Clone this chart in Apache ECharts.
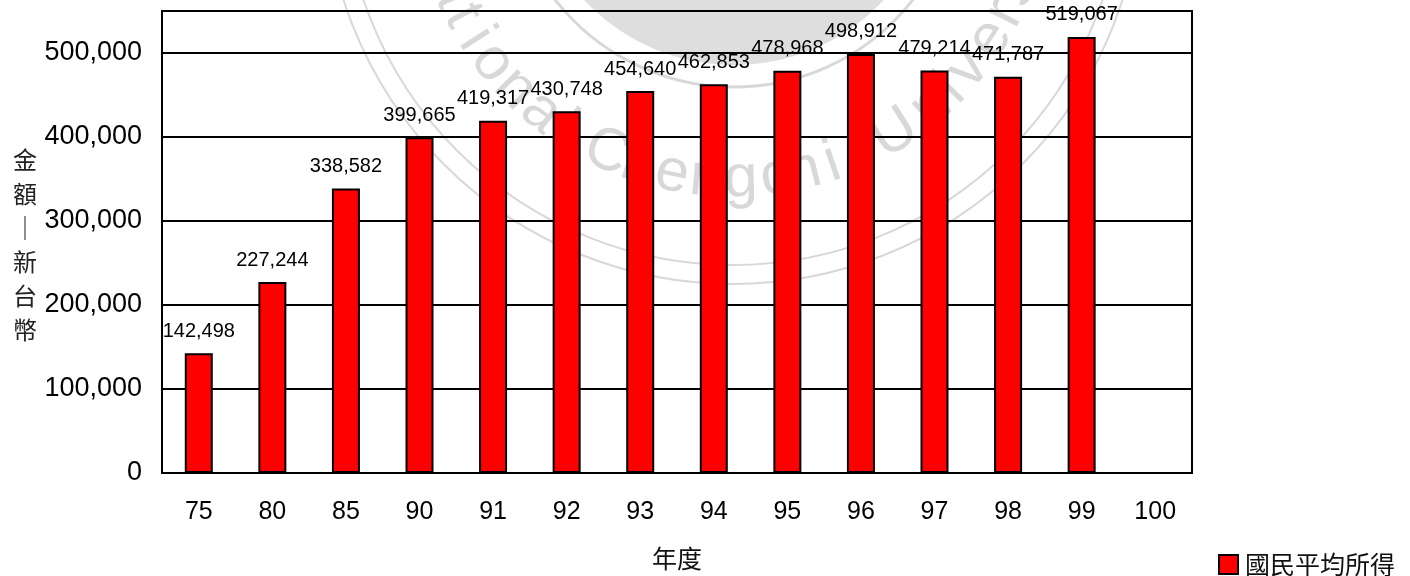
<!DOCTYPE html>
<html>
<head>
<meta charset="utf-8">
<script src="https://cdn.jsdelivr.net/npm/echarts@6/dist/echarts.min.js"></script>
<style>
  html, body { margin: 0; padding: 0; background: #fff; }
  #chart { width: 1410px; height: 576px; }
</style>
</head>
<body>
<div id="chart"></div>
<script>
// 年度 (ROC years) and per-capita national income in NT$
const categories = ['75', '80', '85', '90', '91', '92', '93', '94', '95', '96', '97', '98', '99', '100'];
const incomeValues = [142498, 227244, 338582, 399665, 419317, 430748, 454640, 462853, 478968, 498912, 479214, 471787, 519067, null];
const seriesName = '國民平均所得';
const yAxisName = ['金', '額', '｜', '新', '台', '幣'];
const xAxisName = '年度';

// Faint university seal drawn behind the plot
const sealText = 'National Chengchi University';
const sealLetterAngles = [166, 158, 152.5, 147.5, 142, 135.5, 129, 123.5, 119,
  114.5, 108, 101.5, 95, 88.5, 82, 76.5, 71, 64,
  58, 49.5, 44.5, 39.5, 32.5, 27, 22, 17, 12.5, 7];

function thousands(v) {
  return String(v).replace(/\B(?=(\d{3})+(?!\d))/g, ',');
}

const sealColor = '#d8d8d8';
const sealCx = 733, sealCy = -125, sealTextR = 305;
const sealGraphics = [
  { type: 'circle', z: -10, shape: { cx: 734, cy: -140, r: 205 }, style: { fill: '#dedede' }, silent: true },
  { type: 'circle', z: -10, shape: { cx: 734, cy: -140, r: 227 }, style: { fill: 'none', stroke: sealColor, lineWidth: 3 }, silent: true },
  { type: 'circle', z: -10, shape: { cx: sealCx, cy: sealCy, r: 390 }, style: { fill: 'none', stroke: sealColor, lineWidth: 2 }, silent: true },
  { type: 'circle', z: -10, shape: { cx: sealCx, cy: sealCy, r: 409 }, style: { fill: 'none', stroke: sealColor, lineWidth: 2 }, silent: true }
];
sealText.split('').forEach(function (ch, i) {
  if (ch === ' ') return;
  const a = sealLetterAngles[i] * Math.PI / 180;
  sealGraphics.push({
    type: 'text', z: -10, silent: true,
    x: sealCx + sealTextR * Math.cos(a),
    y: sealCy + sealTextR * Math.sin(a),
    rotation: (Math.PI / 2) - a,
    style: {
      text: ch, fill: sealColor,
      font: '60px "Liberation Sans", Arial, sans-serif',
      align: 'center', verticalAlign: 'middle',
      textAlign: 'center', textVerticalAlign: 'middle'
    }
  });
});

const chart = echarts.init(document.getElementById('chart'), null, { renderer: 'canvas' });
const option = {
  animation: false,
  backgroundColor: '#fff',
  textStyle: { fontFamily: '"Liberation Sans", Arial, sans-serif' },
  grid: { left: 162, right: 218, top: 11, bottom: 103, show: true, borderColor: '#000', borderWidth: 2 },
  legend: {
    data: [seriesName], right: 15, top: 552, padding: 0, icon: 'rect',
    itemWidth: 19, itemHeight: 19, itemGap: 8,
    itemStyle: { color: '#ff0000', borderColor: '#000', borderWidth: 2 },
    textStyle: { fontSize: 25, color: '#111', fontFamily: '"Noto Sans CJK TC", sans-serif', padding: [0, 0, 0, 2] }
  },
  xAxis: {
    type: 'category', data: categories,
    name: xAxisName, nameLocation: 'middle', nameGap: 73,
    nameTextStyle: { fontSize: 25, color: '#111', fontFamily: '"Noto Sans CJK TC", sans-serif' },
    axisLine: { lineStyle: { color: '#000', width: 2 } },
    axisTick: { inside: true, length: 9, lineStyle: { color: '#000', width: 2 } },
    axisLabel: { fontSize: 25, color: '#000', margin: 27 }
  },
  yAxis: {
    type: 'value', min: 0, max: 550000, interval: 100000,
    axisLine: { show: true, lineStyle: { color: '#000', width: 2 } },
    axisTick: { show: false },
    splitLine: { lineStyle: { color: '#000', width: 2 } },
    axisLabel: {
      fontSize: 27, color: '#000', margin: 20, padding: [5, 0, 0, 0],
      formatter: function (v) { return v > 500000 ? '' : thousands(v); }
    }
  },
  series: [{
    type: 'bar', name: seriesName, data: incomeValues, barWidth: 28,
    itemStyle: { color: '#ff0000', borderColor: '#000', borderWidth: 2 },
    label: {
      show: true, position: 'top', distance: 12, fontSize: 20, color: '#000',
      formatter: function (p) { return p.value == null ? '' : thousands(p.value); }
    }
  }],
  graphic: sealGraphics.concat([{
    type: 'text', x: 25, y: 245, silent: true,
    style: {
      text: yAxisName.join('\n'), fill: '#222', lineHeight: 34,
      font: '24px "Noto Sans CJK TC", sans-serif',
      align: 'center', verticalAlign: 'middle',
      textAlign: 'center', textVerticalAlign: 'middle'
    }
  }])
};
chart.setOption(option);
</script>
</body>
</html>
